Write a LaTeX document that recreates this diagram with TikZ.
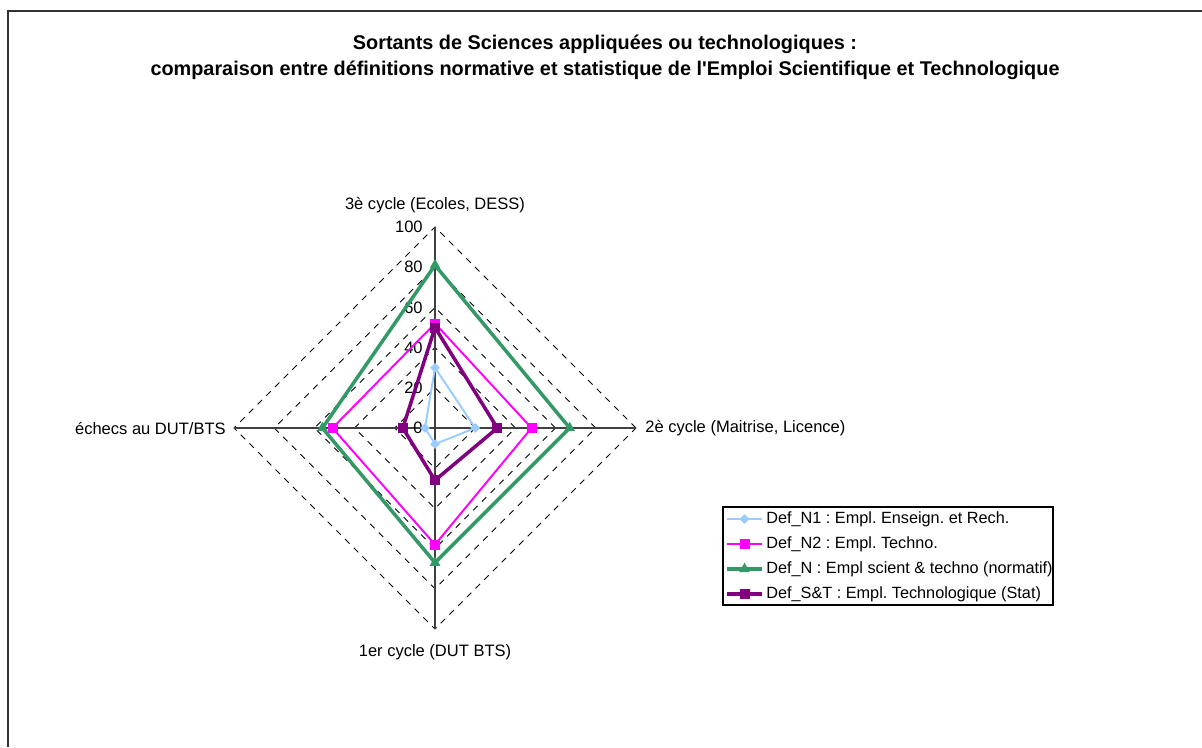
\documentclass[tikz,border=0pt]{standalone}
\usepackage{fontspec}
\setmainfont{Liberation Sans}
\usetikzlibrary{shapes.geometric}
\definecolor{bleuclair}{HTML}{99CCFF}
\definecolor{rose}{HTML}{FF00FF}
\definecolor{vert}{HTML}{339966}
\definecolor{violet}{HTML}{800080}
\frenchspacing

\begin{document}
\begin{tikzpicture}[x=0.02cm,y=-0.02cm,
  lbl/.style={font=\fontsize{9.4}{11}\selectfont, inner sep=0pt},
  leg/.style={font=\fontsize{9.25}{11}\selectfont, inner sep=0pt, anchor=west},
  titre/.style={font=\fontsize{11.3}{13}\selectfont\bfseries, inner sep=0pt},
  grille/.style={black, line width=0.5pt, dash pattern=on 3.6pt off 3.4pt},
  axe/.style={black!75, line width=0.6pt},
  lnA/.style={bleuclair, line width=1.1pt},
  lnB/.style={rose, line width=1.1pt},
  lnC/.style={vert, line width=2pt},
  lnD/.style={violet, line width=2pt},
  mkA/.style={diamond, fill=bleuclair, inner sep=0pt, minimum size=0.2cm},
  mkB/.style={rectangle, fill=rose, inner sep=0pt, minimum size=0.2cm},
  mkC/.style={regular polygon, regular polygon sides=3, fill=vert, inner sep=0pt, minimum size=0.25cm},
  mkD/.style={rectangle, fill=violet, inner sep=0pt, minimum size=0.2cm}]
\useasboundingbox (0,0) rectangle (1202,747);
%cadre
  \draw[black!80, line width=1.2pt] (1202,11) -- (8,11) -- (8,747);
%titre
  \node[titre] (t1) at (605,44) {Sortants de Sciences appliquées ou technologiques :};
  \node[titre] (t2) at (605,70) {comparaison entre définitions normative et statistique de l\textquotesingle Emploi Scientifique et Technologique};
%grille
  \draw[grille] (475.2,428) -- (435,387.8) -- (394.8,428) -- (435,468.2) -- cycle;
  \draw[grille] (515.4,428) -- (435,347.6) -- (354.6,428) -- (435,508.4) -- cycle;
  \draw[grille] (555.6,428) -- (435,307.4) -- (314.4,428) -- (435,548.6) -- cycle;
  \draw[grille] (595.8,428) -- (435,267.2) -- (274.2,428) -- (435,588.8) -- cycle;
  \draw[grille] (636,428) -- (435,227) -- (234,428) -- (435,629) -- cycle;
%axes
  \coordinate (c) at (435,428);
  \coordinate (haut) at (435,227);
  \coordinate (droite) at (636,428);
  \coordinate (bas) at (435,629);
  \coordinate (gauche) at (234,428);
  \draw[axe] (c) -- (haut);
  \draw[axe] (c) -- (droite);
  \draw[axe] (c) -- (bas);
  \draw[axe] (c) -- (gauche);
  \node[lbl, anchor=east] (v0) at (423,428) {0};
  \node[lbl, anchor=east] (v20) at (423,387.8) {20};
  \node[lbl, anchor=east] (v40) at (423,347.6) {40};
  \node[lbl, anchor=east] (v60) at (423,307.4) {60};
  \node[lbl, anchor=east] (v80) at (423,267.2) {80};
  \node[lbl, anchor=east] (v100) at (423,227) {100};
  \node[lbl] (lhaut) at (435,205) {3è cycle (Ecoles, DESS)};
  \node[lbl, anchor=west] (ldroite) at (645,428) {2è cycle (Maitrise, Licence)};
  \node[lbl] (lbas) at (435,652) {1er cycle (DUT BTS)};
  \node[lbl, anchor=east] (lgauche) at (226,428) {échecs au DUT/BTS};
%Def_N1
  \coordinate (a1) at (435,367.7);
  \coordinate (a2) at (475.2,428);
  \coordinate (a3) at (435,444.1);
  \coordinate (a4) at (425,428);
  \draw[lnA] (a1) -- (a2) -- (a3) -- (a4) -- cycle;
  \node[mkA] at (a1) {};
  \node[mkA] at (a2) {};
  \node[mkA] at (a3) {};
  \node[mkA] at (a4) {};
%Def_N2
  \coordinate (b1) at (435,323.5);
  \coordinate (b2) at (531.5,428);
  \coordinate (b3) at (435,544.6);
  \coordinate (b4) at (332.5,428);
  \draw[lnB] (b1) -- (b2) -- (b3) -- (b4) -- cycle;
  \node[mkB] at (b1) {};
  \node[mkB] at (b2) {};
  \node[mkB] at (b3) {};
  \node[mkB] at (b4) {};
%Def_N
  \coordinate (n1) at (435,265.2);
  \coordinate (n2) at (569.7,428);
  \coordinate (n3) at (435,562.7);
  \coordinate (n4) at (322.4,428);
  \draw[lnC, line join=round] (n1) -- (n2) -- (n3) -- (n4) -- cycle;
  \node[mkC] at (n1) {};
  \node[mkC] at (n2) {};
  \node[mkC] at (n3) {};
  \node[mkC] at (n4) {};
%Def_S&T
  \coordinate (d1) at (435,327.5);
  \coordinate (d2) at (497.3,428);
  \coordinate (d3) at (435,480.3);
  \coordinate (d4) at (402.8,428);
  \draw[lnD, line join=round] (d1) -- (d2) -- (d3) -- (d4) -- cycle;
  \node[mkD] at (d1) {};
  \node[mkD] at (d2) {};
  \node[mkD] at (d3) {};
  \node[mkD] at (d4) {};
%legende
  \draw[black, line width=0.6pt] (723,507) rectangle (1053,605);
  \coordinate (la0) at (727,519);
  \coordinate (la1) at (762,519);
  \draw[lnA] (la0) -- (la1);
  \node[mkA] at (744.5,519) {};
  \node[leg] (ta) at (766,519) {Def\_N1 : Empl. Enseign. et Rech.};
  \coordinate (lb0) at (727,544);
  \coordinate (lb1) at (762,544);
  \draw[lnB] (lb0) -- (lb1);
  \node[mkB] at (744.5,544) {};
  \node[leg] (tb) at (766,544) {Def\_N2 : Empl. Techno.};
  \coordinate (lc0) at (727,569);
  \coordinate (lc1) at (762,569);
  \draw[lnC] (lc0) -- (lc1);
  \node[mkC] at (744.5,569) {};
  \node[leg] (tc) at (766,569) {Def\_N : Empl scient \& techno (normatif)};
  \coordinate (ld0) at (727,594);
  \coordinate (ld1) at (762,594);
  \draw[lnD] (ld0) -- (ld1);
  \node[mkD] at (744.5,594) {};
  \node[leg] (td) at (766,594) {Def\_S\&T : Empl. Technologique (Stat)};
\end{tikzpicture}
\end{document}
